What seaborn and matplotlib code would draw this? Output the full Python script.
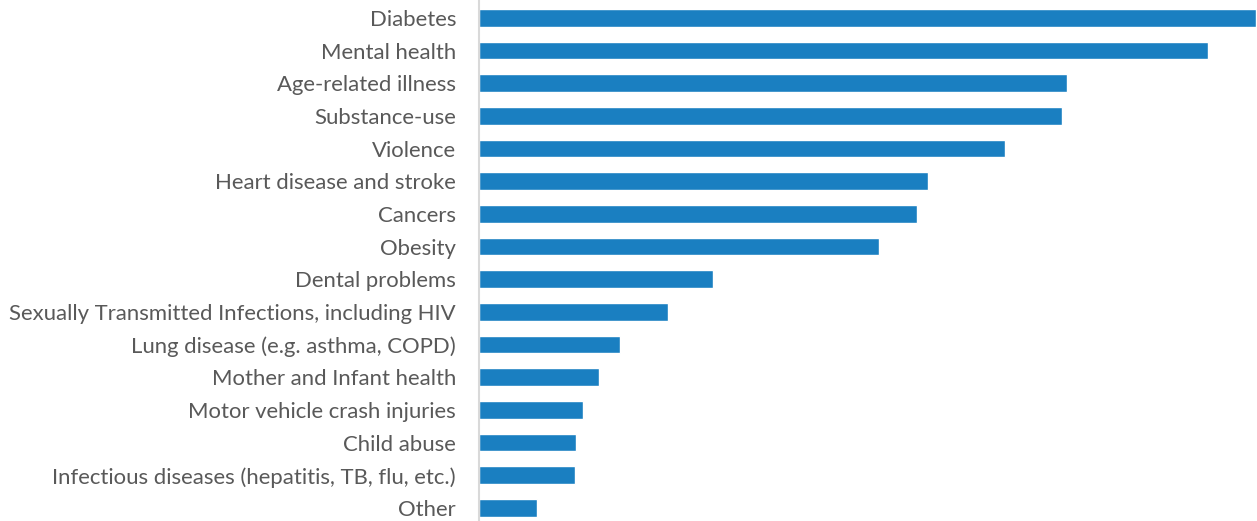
import matplotlib
matplotlib.use("Agg")
import matplotlib.pyplot as plt
import seaborn as sns
import pandas as pd

# categories and bar lengths (no value axis shown)
categories = [
    "Diabetes",
    "Mental health",
    "Age-related illness",
    "Substance-use",
    "Violence",
    "Heart disease and stroke",
    "Cancers",
    "Obesity",
    "Dental problems",
    "Sexually Transmitted Infections, including HIV",
    "Lung disease (e.g. asthma, COPD)",
    "Mother and Infant health",
    "Motor vehicle crash injuries",
    "Child abuse",
    "Infectious diseases (hepatitis, TB, flu, etc.)",
    "Other",
]
values = [777, 729, 588, 583, 526, 449, 438, 400, 234, 189, 141, 120, 104, 97, 96, 58]

df = pd.DataFrame({"category": categories, "value": values})

sns.set_style("white")
plt.rcParams["font.family"] = ["Lato", "DejaVu Sans"]

fig = plt.figure(figsize=(12.57, 5.21), dpi=100)
ax = fig.add_axes([479 / 1257, 0, 778 / 1257, 1])

sns.barplot(data=df, x="value", y="category", color="#1a7fc1", saturation=1,
            width=0.54, ax=ax)

ax.set_xlim(0, 778)
ax.set_ylim(15.4, -0.55)
ax.set_xlabel("")
ax.set_ylabel("")
ax.set_xticks([])
for s in ["top", "right", "bottom"]:
    ax.spines[s].set_visible(False)
ax.spines["left"].set_color("#d9d9d9")
ax.spines["left"].set_linewidth(1.5)
ax.tick_params(axis="y", length=0, pad=16.5, labelsize=15.9, labelcolor="#595959")

fig.savefig("out.png", dpi=100)
